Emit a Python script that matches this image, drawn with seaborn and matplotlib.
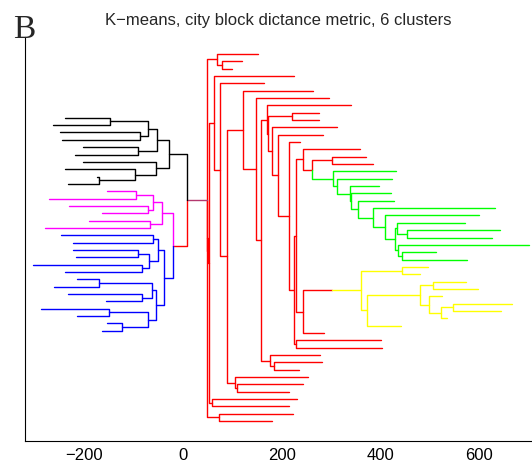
import matplotlib
matplotlib.use('Agg')
import matplotlib.pyplot as plt
import seaborn as sns
import pandas as pd

# each link: (child1_x, child1_y, node_x, child2_x, child2_y), drawn as a bracket
black_links = [
    (-239, 44, -148, -263, 43),
    (-250, 42, -87, -246, 41),
    (-148, 43.5, -70, -87, 41.5),
    (-203, 40, -91, -219, 39),
    (-70, 42.5, -53, -91, 39.5),
    (-174, 36, -170, -232, 35),
    (-239, 37, -97, -170, 35.5),
    (-203, 38, -55, -97, 36.25),
    (-53, 41, -28, -55, 37.1),
    (-28, 39.05, 7.5, 7.5, 32.8),
]
magenta_links = [
    (-153, 34, -96, -271, 33),
    (-230, 32, -71, -165, 31),
    (-96, 33.5, -60, -71, 31.5),
    (-190, 30, -67, -279, 29),
    (-60, 32.5, -43, -67, 29.5),
    (-43, 31, -20, -20, 26.6),
]
blue_links = [
    (-247, 28, -61, -222, 27),
    (-222, 26, -91, -217, 25),
    (-303, 24, -82, -238, 23),
    (-91, 25.5, -68, -82, 23.5),
    (-61, 27.5, -50, -68, 24.5),
    (-215, 22, -170, -261, 21),
    (-232, 20, -82, -156, 19),
    (-170, 21.5, -62, -82, 19.5),
    (-288, 18, -150, -214, 17),
    (-153, 16, -123, -165, 15),
    (-150, 17.5, -70, -123, 15.5),
    (-62, 20.5, -55, -70, 16.5),
    (-50, 26, -38, -55, 18.5),
    (-20, 26.6, -20, -38, 22.25),
]
green_links = [
    (643, 28.7, 454, 626, 27.7),
    (512, 25.7, 444, 576, 24.7),
    (701, 26.7, 436, 444, 25.2),
    (571, 29.7, 434, 454, 28.2),
    (434, 28.95, 429, 436, 25.95),
    (599, 30.7, 410, 429, 27.45),
    (632, 31.7, 385, 410, 29.08),
    (427, 32.7, 355, 385, 30.39),
    (421, 33.7, 340, 355, 31.55),
    (398, 34.7, 338, 340, 32.62),
    (423, 35.7, 311, 338, 33.66),
    (431, 36.7, 304, 311, 34.68),
    (261, 36.95, 261, 304, 35.69),
]
yellow_links = [
    (496, 23.7, 444, 481, 22.7),
    (573, 21.7, 507, 598, 20.7),
    (666, 18.7, 547, 645, 17.7),
    (547, 18.2, 522, 535, 16.7),
    (525, 19.7, 499, 522, 17.45),
    (507, 21.2, 481, 499, 18.58),
    (481, 19.89, 372, 441, 15.7),
    (444, 23.2, 360, 372, 17.8),
    (301, 20.5, 360, 360, 20.5),
]
red_links = [
    (7.5, 32.8, 7.5, -20, 26.6),
    (48, 32.8, 48, 51, 25.9),
    (119, 51.7, 80, 99, 50.7),
    (152.5, 52.7, 69.5, 80, 51.2),
    (222, 3.7, 73.5, 181, 2.7),
    (69.5, 51.95, 49, 73.5, 3.2),
    (230, 5.7, 58, 215, 4.7),
    (276, 44.7, 220, 275, 43.7),
    (371, 38.7, 301, 384, 37.7),
    (301, 38.2, 261, 261, 36.95),
    (358, 39.7, 244, 261, 36.95),
    (301, 20.5, 244, 286, 14.7),
    (402, 13.7, 229, 404, 12.7),
    (244, 38.33, 229, 244, 17.6),
    (229, 27.96, 225, 229, 13.2),
    (238, 40.7, 215, 225, 20.58),
    (284, 41.7, 193, 215, 30.64),
    (311, 42.7, 180, 193, 36.17),
    (220, 44.2, 173, 180, 39.43),
    (340, 45.7, 169.5, 173, 41.82),
    (281, 10.7, 184, 235.5, 9.7),
    (277, 11.7, 176, 184, 10.2),
    (169.5, 43.76, 159, 176, 10.95),
    (296, 46.7, 147, 159, 27.36),
    (263, 47.7, 121, 147, 37.03),
    (244, 7.7, 110, 215, 6.7),
    (254, 8.7, 105, 110, 7.2),
    (121, 42.37, 90, 105, 7.95),
    (165, 48.7, 76, 90, 25.16),
    (225, 49.7, 63, 76, 36.93),
    (63, 43.3, 53, 58, 5.2),
    (49, 27.58, 51, 53, 24.25),
]
join_links = [
    (7.5, 32.8, 48, 48, 32.8),
]

groups = {
    'red': red_links,
    'join': join_links,
    'black': black_links,
    'magenta': magenta_links,
    'blue': blue_links,
    'green': green_links,
    'yellow': yellow_links,
}
colors = {
    'red': '#ff0000',
    'join': '#b4386e',
    'black': '#000000',
    'magenta': '#ff00ff',
    'blue': '#0000ff',
    'green': '#00ff00',
    'yellow': '#ffff00',
}

rows = []
link_id = 0
for group, links in groups.items():
    for x1, y1, xn, x2, y2 in links:
        for x, y in [(x1, y1), (xn, y1), (xn, y2), (x2, y2)]:
            rows.append({'link': link_id, 'group': group, 'x': x, 'y': y})
        link_id += 1
df = pd.DataFrame(rows)

sns.set_style('white')
plt.rcParams['font.family'] = ['Liberation Sans', 'DejaVu Sans']

fig = plt.figure(figsize=(5.32, 4.69), dpi=100)
ax = fig.add_axes([25 / 532, 28 / 469, 507 / 532, 404 / 469])

sns.lineplot(data=df, x='x', y='y', hue='group', units='link', estimator=None,
             sort=False, palette=colors, hue_order=list(groups.keys()),
             linewidth=1.0, legend=False, ax=ax)

ax.set_xlim(-320, 707)
ax.set_ylim(0, 55)
ax.set_xticks([-200, 0, 200, 400, 600])
ax.set_yticks([])
ax.set_xlabel('')
ax.set_ylabel('')
ax.tick_params(axis='x', direction='in', length=4, width=0.8, labelsize=12, pad=5, colors='black')
for side in ['top', 'right']:
    ax.spines[side].set_visible(False)
for side in ['left', 'bottom']:
    ax.spines[side].set_color('black')
    ax.spines[side].set_linewidth(0.8)

ax.set_title('K\u2212means, city block dictance metric, 6 clusters', fontsize=12, pad=9)
fig.text(13 / 532, 1 - 37.7 / 469, 'B', fontsize=24, va='baseline', ha='left',
         family=['Liberation Serif', 'DejaVu Serif'])

fig.savefig('out.png', dpi=100)
